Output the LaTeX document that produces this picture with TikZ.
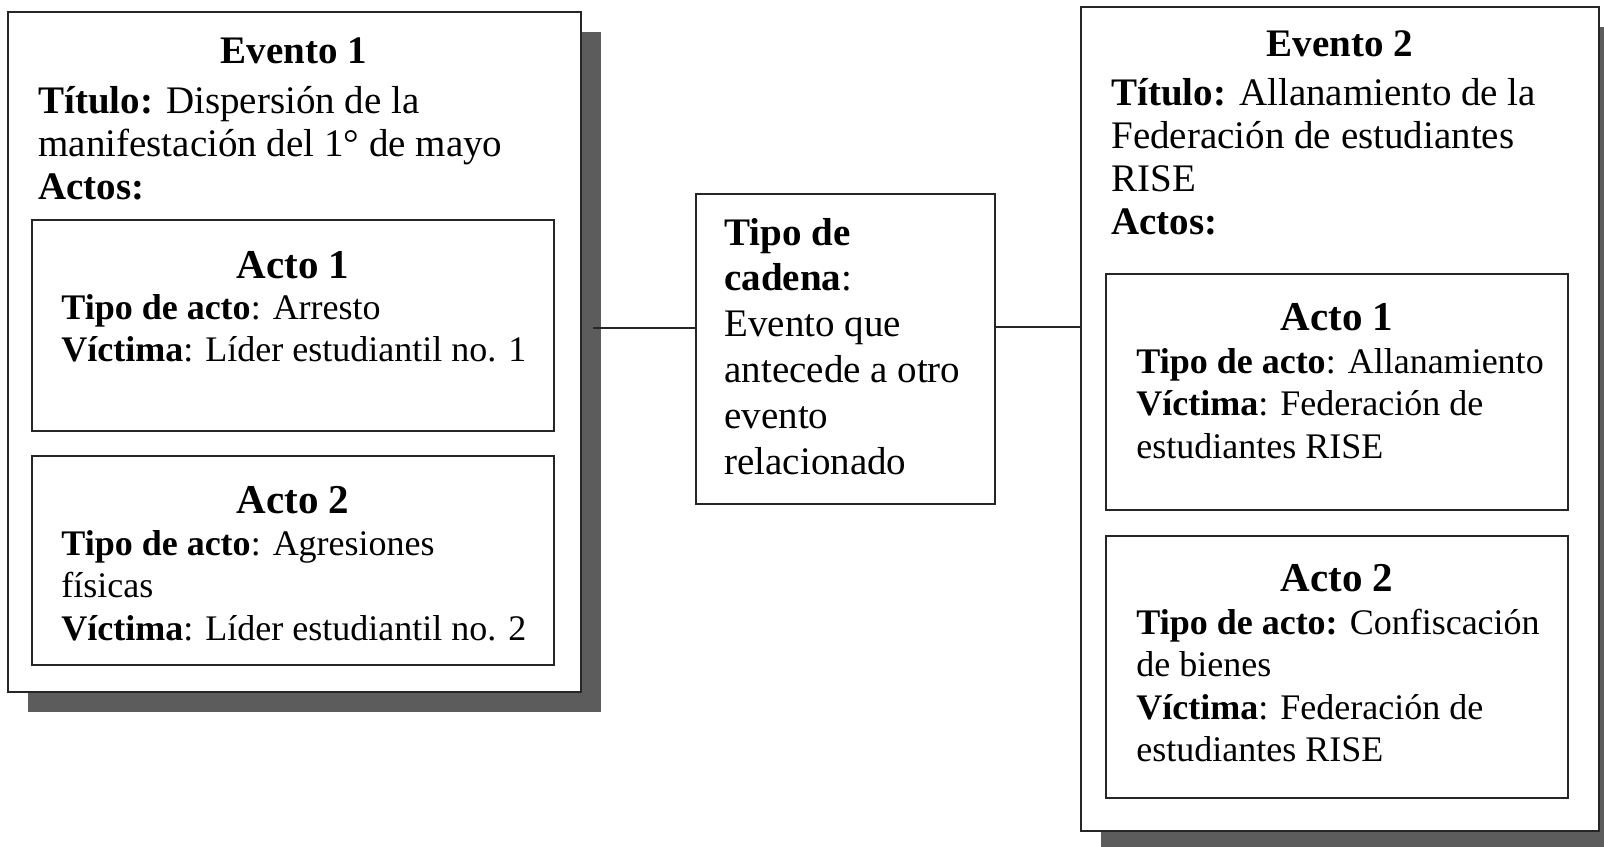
\documentclass[tikz,border=0pt]{standalone}
\usepackage{fontspec}
\setmainfont{Liberation Serif}
\usetikzlibrary{positioning,fit,shadows}
\definecolor{boxline}{HTML}{262626}
\definecolor{shadowgray}{HTML}{5C5C5C}

\begin{document}
\begin{tikzpicture}[x=0.5pt,y=-0.5pt,
    evbox/.style={draw=boxline, line width=1.1pt, fill=white, inner sep=0pt,
        drop shadow={shadow xshift=10pt, shadow yshift=-10pt, fill=shadowgray, opacity=1}},
    actbox/.style={draw=boxline, line width=1.3pt, inner sep=0pt},
    chainbox/.style={draw=boxline, line width=1pt, inner sep=0pt},
    evtitle/.style={inner sep=0pt, anchor=base, font=\bfseries\fontsize{19.5}{21.5}\selectfont},
    acttitle/.style={inner sep=0pt, anchor=base, font=\bfseries\fontsize{20.5}{21.5}\selectfont},
    evtext/.style={inner sep=0pt, anchor=base west, font=\fontsize{19.5}{21.5}\selectfont},
    acttext/.style={inner sep=0pt, anchor=base west, font=\fontsize{18}{21.3}\selectfont},
    chaintext/.style={inner sep=0pt, anchor=base west, font=\fontsize{19.5}{22.9}\selectfont},
    enlace/.style={draw=boxline, line width=0.9pt}]
    \useasboundingbox (0,0) rectangle (1604,846);

    % Evento 1
    \node[evbox, fit={(8,12) (581,692)}] (ev1) {};
    \node[evtitle] (ev1title) at (294,63) {Evento 1};
    \node[evtext] (ev1text) at (38,113) {\parbox[t]{260pt}{\textbf{Título:} Dispersión de la\\manifestación del 1° de mayo\\\textbf{Actos:}}};

    % Actos del evento 1
    \node[actbox, fit={(32,220) (554,431)}] (ev1act1) {};
    \node[acttitle] (ev1act1title) at (293,278) {Acto 1};
    \node[acttext] (ev1act1text) at (61,319) {\parbox[t]{240pt}{\textbf{Tipo de acto}: Arresto\\\textbf{Víctima}: Líder estudiantil no. 1}};

    \node[actbox, fit={(32,456) (554,665)}] (ev1act2) {};
    \node[acttitle] (ev1act2title) at (293,513) {Acto 2};
    \node[acttext] (ev1act2text) at (61,555) {\parbox[t]{240pt}{\textbf{Tipo de acto}: Agresiones\\físicas\\\textbf{Víctima}: Líder estudiantil no. 2}};

    % Tipo de cadena
    \node[chainbox, fit={(696,194) (995,504)}] (cadena) {};
    \node[chaintext] (cadenatext) at (724,245) {\parbox[t]{130pt}{\textbf{Tipo de}\\\textbf{cadena}:\\Evento que\\antecede a otro\\evento\\relacionado}};

    % Evento 2
    \node[evbox, fit={(1081,7) (1599,831)}] (ev2) {};
    \node[evtitle] (ev2title) at (1340,56) {Evento 2};
    \node[evtext] (ev2text) at (1111,105) {\parbox[t]{240pt}{\textbf{Título:} Allanamiento de la\\Federación de estudiantes\\RISE\\\textbf{Actos:}}};

    % Actos del evento 2
    \node[actbox, fit={(1106,274) (1568,510)}] (ev2act1) {};
    \node[acttitle] (ev2act1title) at (1337,330) {Acto 1};
    \node[acttext] (ev2act1text) at (1136,373) {\parbox[t]{215pt}{\textbf{Tipo de acto}: Allanamiento\\\textbf{Víctima}: Federación de\\estudiantes RISE}};

    \node[actbox, fit={(1106,536) (1568,798)}] (ev2act2) {};
    \node[acttitle] (ev2act2title) at (1337,591) {Acto 2};
    \node[acttext] (ev2act2text) at (1136,634) {\parbox[t]{215pt}{\textbf{Tipo de acto:} Confiscación\\de bienes\\\textbf{Víctima}: Federación de\\estudiantes RISE}};

    % Enlaces
    \coordinate (lk1) at (593,328);
    \coordinate (lk2) at (0,327);
    \draw[enlace] (lk1) -- (cadena.west |- lk1);
    \draw[enlace] (cadena.east |- lk2) -- (ev2.west |- lk2);
\end{tikzpicture}
\end{document}
